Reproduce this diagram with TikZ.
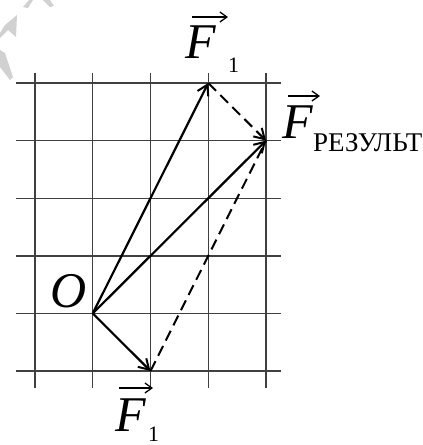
\documentclass[tikz,border=0pt]{standalone}
\usepackage{fontspec}
\setmainfont{Liberation Serif}
\usetikzlibrary{arrows.meta}
\begin{document}
\begin{tikzpicture}[x=1pt,y=-1pt,
 gridline/.style={draw=black!75,line width=1.4pt},
 vec/.style={line width=2.2pt,-{Straight Barb[length=10pt,width=12pt,line width=2pt]}},
 dsh/.style={line width=2pt,dash pattern=on 11pt off 6pt},
 dsharr/.style={dsh,-{Straight Barb[length=10pt,width=12pt,line width=2pt]}},
 lbl/.style={inner sep=0,anchor=base west,font=\fontsize{50}{50}\selectfont\itshape},
 sublbl/.style={inner sep=0,anchor=base west,font=\fontsize{22}{22}\selectfont},
 wordlbl/.style={inner sep=0,anchor=base west,font=\fontsize{27}{27}\selectfont},
 ovr/.style={line width=1.3pt,-{Straight Barb[length=7pt,width=10pt,line width=1.3pt]}},
 wm/.style={fill=black!18,draw=none}]
\useasboundingbox (0,0) rectangle (423,445);
% watermark fragments
\fill[wm] (23,7) -- (28,8) -- (33,0) -- (29,0) -- cycle;
\fill[wm] (43,0) -- (50,0) -- (54,6) -- (50,7) -- cycle;
\fill[wm] (0,33) -- (5,25) -- (17,15) -- (16,37) -- (8,30) -- (0,38) -- cycle;
\fill[wm] (0,50) -- (5,53) -- (13,77) -- (10,80) -- (0,67) -- cycle;
% grid
\foreach \i in {0,...,4} \draw[gridline] (35+57.75*\i,73) -- (35+57.75*\i,388);
\foreach \j in {0,...,5} \draw[gridline] (16,83+57.6*\j) -- (281,83+57.6*\j);
% points
\coordinate (O) at (92.75,313.4);
\coordinate (A) at (208.25,83);
\coordinate (R) at (266,140.6);
\coordinate (B) at (150.5,371);
% vectors
\draw[dsharr] (A) -- (R);
\draw[dsh] (B) -- (R);
\draw[vec] (O) -- (A);
\draw[vec] (O) -- (R);
\draw[vec] (O) -- (B);
% labels
\node[lbl] (O1) at (50,307) {O};
\node[lbl] (F1) at (185,58) {F};
\node[sublbl] (F1s) at (228,72) {1};
\coordinate (F1a) at (192,17);
\coordinate (F1b) at (228,17);
\draw[ovr] (F1a) -- (F1b);
\node[lbl] (FR) at (282,138) {F};
\node[wordlbl] (FRs) at (313,151) {РЕЗУЛЬТ};
\coordinate (FRa) at (288,96);
\coordinate (FRb) at (320,96);
\draw[ovr] (FRa) -- (FRb);
\node[lbl] (F2) at (115,431) {F};
\node[sublbl] (F2s) at (148,441) {1};
\coordinate (F2a) at (119,388);
\coordinate (F2b) at (153,388);
\draw[ovr] (F2a) -- (F2b);
\end{tikzpicture}
\end{document}
